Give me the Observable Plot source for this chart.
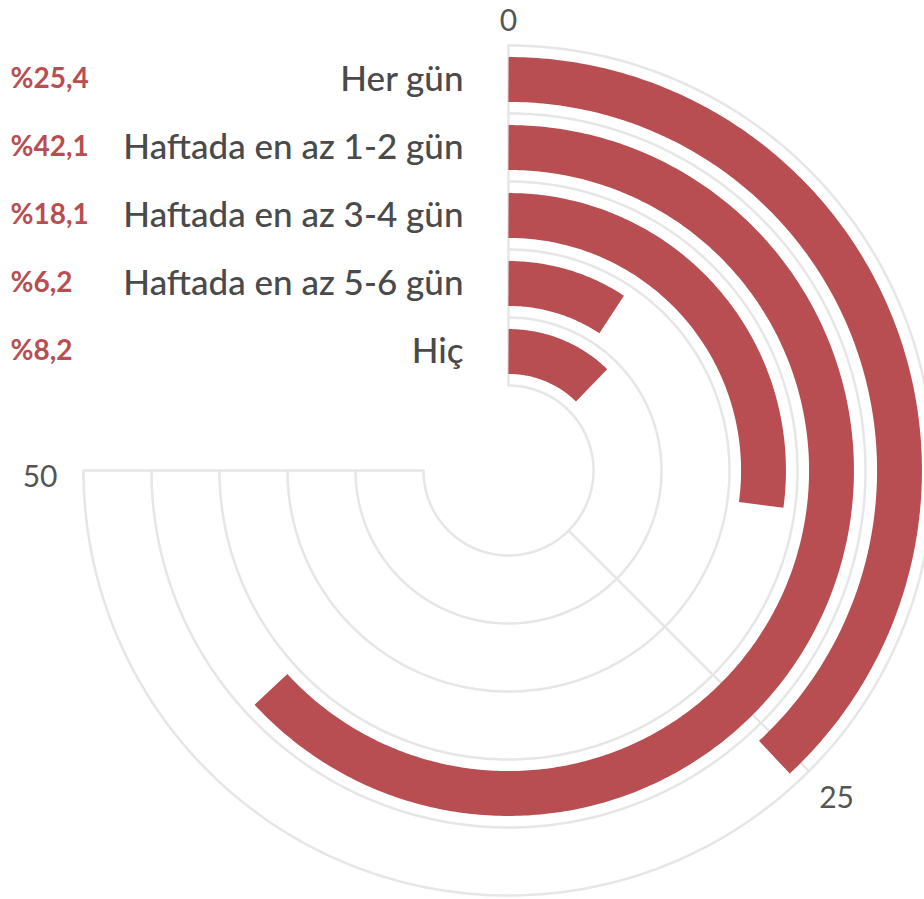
<!DOCTYPE html>
<html>
<head>
<meta charset="utf-8">
<script src="https://cdn.jsdelivr.net/npm/d3@7"></script>
<script src="https://cdn.jsdelivr.net/npm/@observablehq/plot@0.6"></script>
<style>
  html, body { margin: 0; padding: 0; background: #fff; }
  #chart svg { display: block; }
</style>
</head>
<body>
<div id="chart"></div>
<script>
const categories = ["Her gün", "Haftada en az 1-2 gün", "Haftada en az 3-4 gün", "Haftada en az 5-6 gün", "Hiç"];
const values = [25.4, 42.1, 18.1, 6.2, 8.2];
const valueLabels = ["%25,4", "%42,1", "%18,1", "%6,2", "%8,2"];
const tickValues = [0, 25, 50];
const tickLabels = ["0", "25", "50"];

const W = 924, H = 899, CX = 508, CY = 470;
const barColor = "#b84e51";
const gridColor = "#e6e6e6";
const font = "Lato, sans-serif";

const angle = d3.scaleLinear().domain([0, 50]).range([0, 1.5 * Math.PI]);
const radius = d3.scaleBand().domain(categories).range([425, 85]);
const bw = radius.bandwidth();
const polar = (v, r) => ({x: r * Math.sin(angle(v)), y: r * Math.cos(angle(v))});

function arcPoints(v0, v1, r, key) {
  const n = Math.max(2, Math.ceil(Math.abs(v1 - v0) * 8));
  return d3.range(n + 1).map(i => ({...polar(v0 + (v1 - v0) * i / n, r), key}));
}

const barPts = categories.flatMap((c, i) => arcPoints(0, values[i], radius(c) + bw / 2, c));
const gridRadii = Array.from(new Set(categories.flatMap(c => [radius(c), radius(c) + bw])));
const gridPts = gridRadii.flatMap(r => arcPoints(0, 50, r, "g" + r));
const rInner = d3.min(gridRadii), rOuter = d3.max(gridRadii);
const spokes = tickValues.map(t => {
  const a = polar(t, rInner), b = polar(t, rOuter);
  return {x1: a.x, y1: a.y, x2: b.x, y2: b.y};
});
// per-tick label placement (offset beyond outer ring, anchor, vertical nudge)
const tickStyle = [
  {off: 24, anchor: "middle", dy: 0},
  {off: 39, anchor: "middle", dy: 0},
  {off: 26, anchor: "end", dy: 7}
];
const tickMarks = tickValues.map((t, i) => Plot.text(
  [{...polar(t, rOuter + tickStyle[i].off), label: tickLabels[i]}],
  {x: "x", y: "y", text: "label", textAnchor: tickStyle[i].anchor, dy: tickStyle[i].dy,
   fill: "#555", fontSize: 30, fontFamily: font}
));
const catPos = categories.map((c, i) => ({x: -45, y: radius(c) + bw / 2, label: c, pct: valueLabels[i]}));

const chart = Plot.plot({
  width: W,
  height: H,
  marginTop: 0, marginRight: 0, marginBottom: 0, marginLeft: 0,
  x: {domain: [-CX, W - CX], range: [0, W], axis: null},
  y: {domain: [CY - H, CY], range: [H, 0], axis: null},
  style: {background: "#fff", overflow: "visible"},
  marks: [
    Plot.line(gridPts, {x: "x", y: "y", z: "key", stroke: gridColor, strokeWidth: 2.5}),
    Plot.link(spokes, {x1: "x1", y1: "y1", x2: "x2", y2: "y2", stroke: gridColor, strokeWidth: 2.5}),
    Plot.line(barPts, {x: "x", y: "y", z: "key", stroke: barColor, strokeWidth: bw * 0.66, strokeLinecap: "butt", strokeLinejoin: "round"}),
    ...tickMarks,
    Plot.text(catPos, {x: "x", y: "y", text: "label", textAnchor: "end", fill: "#4a4a4a", fontSize: 35, fontWeight: 500, fontFamily: font, style: "letter-spacing:1px"}),
    Plot.text(catPos, {x: 10 - CX, y: "y", text: "pct", textAnchor: "start", fill: barColor, fontSize: 28, fontWeight: "bold", fontFamily: font, style: "letter-spacing:1.8px"})
  ]
});
document.getElementById("chart").appendChild(chart);
</script>
</body>
</html>
